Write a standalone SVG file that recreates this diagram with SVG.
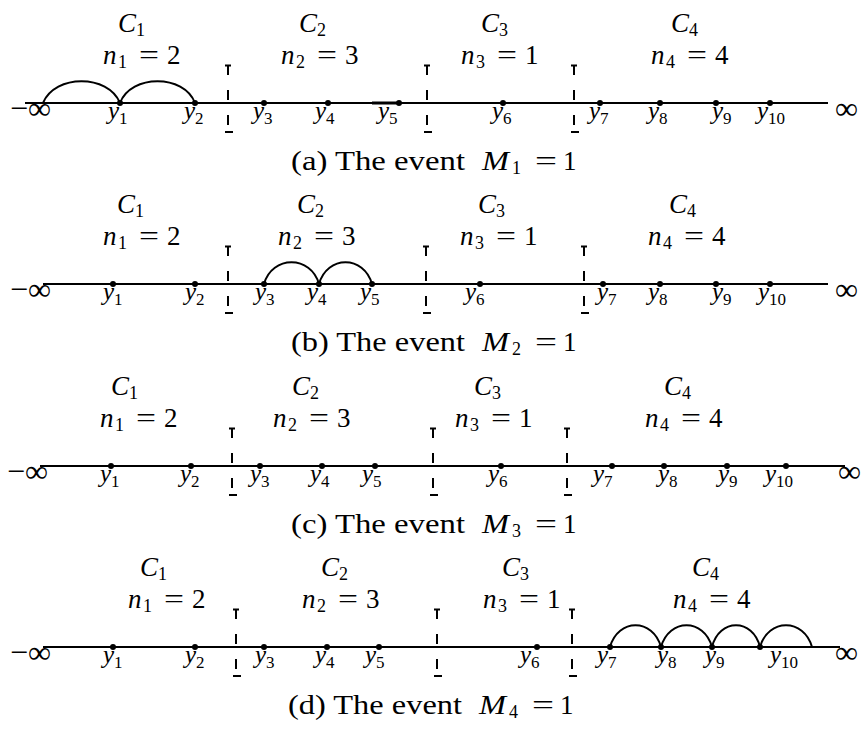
<svg xmlns="http://www.w3.org/2000/svg" width="862" height="729" viewBox="0 0 862 729">
<style>
.ax{stroke:#000;stroke-width:2;fill:none}
.arc{stroke:#000;stroke-width:2;fill:none}
.sep{stroke:#000;stroke-width:2;stroke-dasharray:10 15;fill:none}
.tk{stroke:#000;stroke-width:2}
.dot{fill:#000}
.t{font-family:"Liberation Serif",serif;font-size:27px;fill:#000}
.i{font-style:italic}
.s{font-size:18px;font-style:normal}
.y{font-family:"Liberation Serif",serif;font-size:25px;font-style:italic;fill:#000}
.ys{font-size:17px;font-style:normal}
.inf{font-family:"Liberation Serif",serif;font-size:32px;fill:#000}
.cap{font-family:"Liberation Serif",serif;font-size:27px;fill:#000}
.cs{font-size:18px}
</style>
<rect width="862" height="729" fill="#fff"/>

<!-- Panel (a) -->
<g id="panel-a">
  <line class="ax" x1="25" y1="103" x2="828" y2="103"/>
  <line class="ax" x1="372" y1="103" x2="399" y2="103" style="stroke-width:3"/>
  <text class="inf" y="119"><tspan x="10">−</tspan><tspan x="28">∞</tspan></text>
  <text class="inf" x="835" y="119">∞</text>
  <g id="a-C1"><text class="t i" x="118" y="32">C<tspan class="s" dy="4">1</tspan></text></g>
  <g id="a-C2"><text class="t i" x="299" y="32">C<tspan class="s" dy="4">2</tspan></text></g>
  <g id="a-C3"><text class="t i" x="481" y="32">C<tspan class="s" dy="4">3</tspan></text></g>
  <g id="a-C4"><text class="t i" x="671" y="32">C<tspan class="s" dy="4">4</tspan></text></g>
  <g id="a-n1"><text class="t" y="64"><tspan class="i" x="103">n</tspan><tspan class="s" x="118" dy="4">1</tspan><tspan x="139" dy="-4" textLength="20" lengthAdjust="spacingAndGlyphs">=</tspan><tspan x="167">2</tspan></text></g>
  <g id="a-n2"><text class="t" y="64"><tspan class="i" x="281">n</tspan><tspan class="s" x="296" dy="4">2</tspan><tspan x="317" dy="-4" textLength="20" lengthAdjust="spacingAndGlyphs">=</tspan><tspan x="345">3</tspan></text></g>
  <g id="a-n3"><text class="t" y="64"><tspan class="i" x="461">n</tspan><tspan class="s" x="476" dy="4">3</tspan><tspan x="497" dy="-4" textLength="20" lengthAdjust="spacingAndGlyphs">=</tspan><tspan x="525">1</tspan></text></g>
  <g id="a-n4"><text class="t" y="64"><tspan class="i" x="651">n</tspan><tspan class="s" x="666" dy="4">4</tspan><tspan x="687" dy="-4" textLength="20" lengthAdjust="spacingAndGlyphs">=</tspan><tspan x="715">4</tspan></text></g>
  <g id="a-sep1"><path class="sep" d="M228 65V127"/><path class="tk" d="M225 65.5H231M225 132H233"/></g>
  <g id="a-sep2"><path class="sep" d="M427 65V127"/><path class="tk" d="M424 65.5H430M424 132H432"/></g>
  <g id="a-sep3"><path class="sep" d="M574 65V127"/><path class="tk" d="M571 65.5H577M571 132H579"/></g>
  <g id="a-y1"><circle class="dot" cx="120" cy="103" r="3"/><text class="y" x="108" y="119">y<tspan class="ys" dy="5">1</tspan></text></g>
  <g id="a-y2"><circle class="dot" cx="195" cy="103" r="3"/><text class="y" x="184" y="119">y<tspan class="ys" dy="5">2</tspan></text></g>
  <g id="a-y3"><circle class="dot" cx="264" cy="103" r="3"/><text class="y" x="253" y="119">y<tspan class="ys" dy="5">3</tspan></text></g>
  <g id="a-y4"><circle class="dot" cx="328" cy="103" r="3"/><text class="y" x="315" y="119">y<tspan class="ys" dy="5">4</tspan></text></g>
  <g id="a-y5"><circle class="dot" cx="399" cy="103" r="3"/><text class="y" x="378" y="119">y<tspan class="ys" dy="5">5</tspan></text></g>
  <g id="a-y6"><circle class="dot" cx="503" cy="103" r="3"/><text class="y" x="492" y="119">y<tspan class="ys" dy="5">6</tspan></text></g>
  <g id="a-y7"><circle class="dot" cx="600" cy="103" r="3"/><text class="y" x="589" y="119">y<tspan class="ys" dy="5">7</tspan></text></g>
  <g id="a-y8"><circle class="dot" cx="660" cy="103" r="3"/><text class="y" x="648" y="119">y<tspan class="ys" dy="5">8</tspan></text></g>
  <g id="a-y9"><circle class="dot" cx="716" cy="103" r="3"/><text class="y" x="712" y="119">y<tspan class="ys" dy="5">9</tspan></text></g>
  <g id="a-y10"><circle class="dot" cx="770" cy="103" r="3"/><text class="y" x="757" y="119">y<tspan class="ys" dy="5">10</tspan></text></g>
  <g id="a-caption"><text class="cap" y="170"><tspan x="291" textLength="174" lengthAdjust="spacingAndGlyphs">(a) The event</tspan><tspan class="i" x="482" textLength="27" lengthAdjust="spacingAndGlyphs">M</tspan><tspan class="cs" x="512" dy="4">1</tspan><tspan x="535" dy="-4" textLength="22" lengthAdjust="spacingAndGlyphs">=</tspan><tspan x="563">1</tspan></text></g>
</g>

<!-- Panel (b) -->
<g id="panel-b">
  <line class="ax" x1="43" y1="284" x2="828" y2="284"/>
  <text class="inf" y="300"><tspan x="10">−</tspan><tspan x="28">∞</tspan></text>
  <text class="inf" x="835" y="300">∞</text>
  <g id="b-C1"><text class="t i" x="117" y="213">C<tspan class="s" dy="4">1</tspan></text></g>
  <g id="b-C2"><text class="t i" x="297" y="213">C<tspan class="s" dy="4">2</tspan></text></g>
  <g id="b-C3"><text class="t i" x="478" y="213">C<tspan class="s" dy="4">3</tspan></text></g>
  <g id="b-C4"><text class="t i" x="669" y="213">C<tspan class="s" dy="4">4</tspan></text></g>
  <g id="b-n1"><text class="t" y="245"><tspan class="i" x="103">n</tspan><tspan class="s" x="118" dy="4">1</tspan><tspan x="139" dy="-4" textLength="20" lengthAdjust="spacingAndGlyphs">=</tspan><tspan x="167">2</tspan></text></g>
  <g id="b-n2"><text class="t" y="245"><tspan class="i" x="278">n</tspan><tspan class="s" x="293" dy="4">2</tspan><tspan x="314" dy="-4" textLength="20" lengthAdjust="spacingAndGlyphs">=</tspan><tspan x="342">3</tspan></text></g>
  <g id="b-n3"><text class="t" y="245"><tspan class="i" x="460">n</tspan><tspan class="s" x="475" dy="4">3</tspan><tspan x="496" dy="-4" textLength="20" lengthAdjust="spacingAndGlyphs">=</tspan><tspan x="524">1</tspan></text></g>
  <g id="b-n4"><text class="t" y="245"><tspan class="i" x="648">n</tspan><tspan class="s" x="663" dy="4">4</tspan><tspan x="684" dy="-4" textLength="20" lengthAdjust="spacingAndGlyphs">=</tspan><tspan x="712">4</tspan></text></g>
  <g id="b-sep1"><path class="sep" d="M228 246V308"/><path class="tk" d="M225 246.5H231M225 313H233"/></g>
  <g id="b-sep2"><path class="sep" d="M426 246V308"/><path class="tk" d="M423 246.5H429M423 313H431"/></g>
  <g id="b-sep3"><path class="sep" d="M584 246V308"/><path class="tk" d="M581 246.5H587M581 313H589"/></g>
  <g id="b-y1"><circle class="dot" cx="113" cy="284" r="3"/><text class="y" x="103" y="300">y<tspan class="ys" dy="5">1</tspan></text></g>
  <g id="b-y2"><circle class="dot" cx="195" cy="284" r="3"/><text class="y" x="185" y="300">y<tspan class="ys" dy="5">2</tspan></text></g>
  <g id="b-y3"><circle class="dot" cx="264" cy="284" r="3"/><text class="y" x="255" y="300">y<tspan class="ys" dy="5">3</tspan></text></g>
  <g id="b-y4"><circle class="dot" cx="319" cy="284" r="3"/><text class="y" x="307" y="300">y<tspan class="ys" dy="5">4</tspan></text></g>
  <g id="b-y5"><circle class="dot" cx="372" cy="284" r="3"/><text class="y" x="360" y="300">y<tspan class="ys" dy="5">5</tspan></text></g>
  <g id="b-y6"><circle class="dot" cx="480" cy="284" r="3"/><text class="y" x="465" y="300">y<tspan class="ys" dy="5">6</tspan></text></g>
  <g id="b-y7"><circle class="dot" cx="603" cy="284" r="3"/><text class="y" x="597" y="300">y<tspan class="ys" dy="5">7</tspan></text></g>
  <g id="b-y8"><circle class="dot" cx="660" cy="284" r="3"/><text class="y" x="648" y="300">y<tspan class="ys" dy="5">8</tspan></text></g>
  <g id="b-y9"><circle class="dot" cx="716" cy="284" r="3"/><text class="y" x="712" y="300">y<tspan class="ys" dy="5">9</tspan></text></g>
  <g id="b-y10"><circle class="dot" cx="770" cy="284" r="3"/><text class="y" x="758" y="300">y<tspan class="ys" dy="5">10</tspan></text></g>
  <g id="b-caption"><text class="cap" y="351"><tspan x="291" textLength="174" lengthAdjust="spacingAndGlyphs">(b) The event</tspan><tspan class="i" x="482" textLength="27" lengthAdjust="spacingAndGlyphs">M</tspan><tspan class="cs" x="512" dy="4">2</tspan><tspan x="535" dy="-4" textLength="22" lengthAdjust="spacingAndGlyphs">=</tspan><tspan x="563">1</tspan></text></g>
</g>

<!-- Panel (c) -->
<g id="panel-c">
  <line class="ax" x1="40" y1="466" x2="845" y2="466"/>
  <text class="inf" y="482"><tspan x="7">−</tspan><tspan x="25">∞</tspan></text>
  <text class="inf" x="838" y="482">∞</text>
  <g id="c-C1"><text class="t i" x="111" y="395">C<tspan class="s" dy="4">1</tspan></text></g>
  <g id="c-C2"><text class="t i" x="292" y="395">C<tspan class="s" dy="4">2</tspan></text></g>
  <g id="c-C3"><text class="t i" x="474" y="395">C<tspan class="s" dy="4">3</tspan></text></g>
  <g id="c-C4"><text class="t i" x="664" y="395">C<tspan class="s" dy="4">4</tspan></text></g>
  <g id="c-n1"><text class="t" y="427"><tspan class="i" x="100">n</tspan><tspan class="s" x="115" dy="4">1</tspan><tspan x="136" dy="-4" textLength="20" lengthAdjust="spacingAndGlyphs">=</tspan><tspan x="164">2</tspan></text></g>
  <g id="c-n2"><text class="t" y="427"><tspan class="i" x="273">n</tspan><tspan class="s" x="288" dy="4">2</tspan><tspan x="309" dy="-4" textLength="20" lengthAdjust="spacingAndGlyphs">=</tspan><tspan x="337">3</tspan></text></g>
  <g id="c-n3"><text class="t" y="427"><tspan class="i" x="455">n</tspan><tspan class="s" x="470" dy="4">3</tspan><tspan x="491" dy="-4" textLength="20" lengthAdjust="spacingAndGlyphs">=</tspan><tspan x="519">1</tspan></text></g>
  <g id="c-n4"><text class="t" y="427"><tspan class="i" x="645">n</tspan><tspan class="s" x="660" dy="4">4</tspan><tspan x="681" dy="-4" textLength="20" lengthAdjust="spacingAndGlyphs">=</tspan><tspan x="709">4</tspan></text></g>
  <g id="c-sep1"><path class="sep" d="M232 428V490"/><path class="tk" d="M229 428.5H235M229 495H237"/></g>
  <g id="c-sep2"><path class="sep" d="M433 428V490"/><path class="tk" d="M430 428.5H436M430 495H438"/></g>
  <g id="c-sep3"><path class="sep" d="M567 428V490"/><path class="tk" d="M564 428.5H570M564 495H572"/></g>
  <g id="c-y1"><circle class="dot" cx="111" cy="466" r="3"/><text class="y" x="100" y="482">y<tspan class="ys" dy="5">1</tspan></text></g>
  <g id="c-y2"><circle class="dot" cx="191" cy="466" r="3"/><text class="y" x="180" y="482">y<tspan class="ys" dy="5">2</tspan></text></g>
  <g id="c-y3"><circle class="dot" cx="260" cy="466" r="3"/><text class="y" x="250" y="482">y<tspan class="ys" dy="5">3</tspan></text></g>
  <g id="c-y4"><circle class="dot" cx="322" cy="466" r="3"/><text class="y" x="310" y="482">y<tspan class="ys" dy="5">4</tspan></text></g>
  <g id="c-y5"><circle class="dot" cx="375" cy="466" r="3"/><text class="y" x="362" y="482">y<tspan class="ys" dy="5">5</tspan></text></g>
  <g id="c-y6"><circle class="dot" cx="501" cy="466" r="3"/><text class="y" x="488" y="482">y<tspan class="ys" dy="5">6</tspan></text></g>
  <g id="c-y7"><circle class="dot" cx="612" cy="466" r="3"/><text class="y" x="593" y="482">y<tspan class="ys" dy="5">7</tspan></text></g>
  <g id="c-y8"><circle class="dot" cx="664" cy="466" r="3"/><text class="y" x="658" y="482">y<tspan class="ys" dy="5">8</tspan></text></g>
  <g id="c-y9"><circle class="dot" cx="727" cy="466" r="3"/><text class="y" x="718" y="482">y<tspan class="ys" dy="5">9</tspan></text></g>
  <g id="c-y10"><circle class="dot" cx="786" cy="466" r="3"/><text class="y" x="765" y="482">y<tspan class="ys" dy="5">10</tspan></text></g>
  <g id="c-caption"><text class="cap" y="533"><tspan x="291" textLength="174" lengthAdjust="spacingAndGlyphs">(c) The event</tspan><tspan class="i" x="482" textLength="27" lengthAdjust="spacingAndGlyphs">M</tspan><tspan class="cs" x="512" dy="4">3</tspan><tspan x="535" dy="-4" textLength="22" lengthAdjust="spacingAndGlyphs">=</tspan><tspan x="563">1</tspan></text></g>
</g>

<!-- Panel (d) -->
<g id="panel-d">
  <line class="ax" x1="43" y1="647" x2="840" y2="647"/>
  <text class="inf" y="663"><tspan x="10">−</tspan><tspan x="28">∞</tspan></text>
  <text class="inf" x="835" y="663">∞</text>
  <g id="d-C1"><text class="t i" x="140" y="576">C<tspan class="s" dy="4">1</tspan></text></g>
  <g id="d-C2"><text class="t i" x="321" y="576">C<tspan class="s" dy="4">2</tspan></text></g>
  <g id="d-C3"><text class="t i" x="502" y="576">C<tspan class="s" dy="4">3</tspan></text></g>
  <g id="d-C4"><text class="t i" x="692" y="576">C<tspan class="s" dy="4">4</tspan></text></g>
  <g id="d-n1"><text class="t" y="608"><tspan class="i" x="128">n</tspan><tspan class="s" x="143" dy="4">1</tspan><tspan x="164" dy="-4" textLength="20" lengthAdjust="spacingAndGlyphs">=</tspan><tspan x="192">2</tspan></text></g>
  <g id="d-n2"><text class="t" y="608"><tspan class="i" x="302">n</tspan><tspan class="s" x="317" dy="4">2</tspan><tspan x="338" dy="-4" textLength="20" lengthAdjust="spacingAndGlyphs">=</tspan><tspan x="366">3</tspan></text></g>
  <g id="d-n3"><text class="t" y="608"><tspan class="i" x="483">n</tspan><tspan class="s" x="498" dy="4">3</tspan><tspan x="519" dy="-4" textLength="20" lengthAdjust="spacingAndGlyphs">=</tspan><tspan x="547">1</tspan></text></g>
  <g id="d-n4"><text class="t" y="608"><tspan class="i" x="673">n</tspan><tspan class="s" x="688" dy="4">4</tspan><tspan x="709" dy="-4" textLength="20" lengthAdjust="spacingAndGlyphs">=</tspan><tspan x="737">4</tspan></text></g>
  <g id="d-sep1"><path class="sep" d="M236 609V671"/><path class="tk" d="M233 609.5H239M233 676H241"/></g>
  <g id="d-sep2"><path class="sep" d="M437 609V671"/><path class="tk" d="M434 609.5H440M434 676H442"/></g>
  <g id="d-sep3"><path class="sep" d="M572 609V671"/><path class="tk" d="M569 609.5H575M569 676H577"/></g>
  <g id="d-y1"><circle class="dot" cx="113" cy="647" r="3"/><text class="y" x="103" y="663">y<tspan class="ys" dy="5">1</tspan></text></g>
  <g id="d-y2"><circle class="dot" cx="195" cy="647" r="3"/><text class="y" x="185" y="663">y<tspan class="ys" dy="5">2</tspan></text></g>
  <g id="d-y3"><circle class="dot" cx="264" cy="647" r="3"/><text class="y" x="255" y="663">y<tspan class="ys" dy="5">3</tspan></text></g>
  <g id="d-y4"><circle class="dot" cx="327" cy="647" r="3"/><text class="y" x="315" y="663">y<tspan class="ys" dy="5">4</tspan></text></g>
  <g id="d-y5"><circle class="dot" cx="379" cy="647" r="3"/><text class="y" x="365" y="663">y<tspan class="ys" dy="5">5</tspan></text></g>
  <g id="d-y6"><circle class="dot" cx="537" cy="647" r="3"/><text class="y" x="520" y="663">y<tspan class="ys" dy="5">6</tspan></text></g>
  <g id="d-y7"><circle class="dot" cx="610" cy="647" r="3"/><text class="y" x="597" y="663">y<tspan class="ys" dy="5">7</tspan></text></g>
  <g id="d-y8"><circle class="dot" cx="661" cy="647" r="3"/><text class="y" x="657" y="663">y<tspan class="ys" dy="5">8</tspan></text></g>
  <g id="d-y9"><circle class="dot" cx="712" cy="647" r="3"/><text class="y" x="705" y="663">y<tspan class="ys" dy="5">9</tspan></text></g>
  <g id="d-y10"><circle class="dot" cx="760" cy="647" r="3"/><text class="y" x="770" y="663">y<tspan class="ys" dy="5">10</tspan></text></g>
  <g id="d-caption"><text class="cap" y="714"><tspan x="288" textLength="174" lengthAdjust="spacingAndGlyphs">(d) The event</tspan><tspan class="i" x="479" textLength="27" lengthAdjust="spacingAndGlyphs">M</tspan><tspan class="cs" x="509" dy="4">4</tspan><tspan x="532" dy="-4" textLength="22" lengthAdjust="spacingAndGlyphs">=</tspan><tspan x="560">1</tspan></text></g>
</g>

<!-- Connectors (arcs) -->
<g id="connectors">
  <path class="arc" d="M43 103C55 74 108 74 120 103"/>
  <path class="arc" d="M120 103C131 74 184 74 195 103"/>
  <path class="arc" d="M264 284C272 255 311 255 319 284"/>
  <path class="arc" d="M319 284C327 255 364 255 372 284"/>
  <path class="arc" d="M610 647C618 618 653 618 661 647"/>
  <path class="arc" d="M661 647C669 618 704 618 712 647"/>
  <path class="arc" d="M712 647C719 618 753 618 760 647"/>
  <path class="arc" d="M760 647C768 618 804 618 812 647"/>
</g>
</svg>
